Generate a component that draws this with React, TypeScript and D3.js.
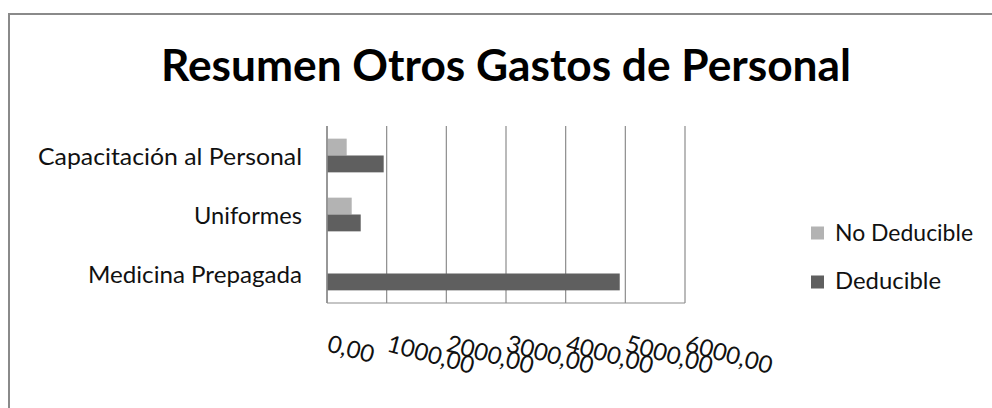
import React from "react";
import * as d3 from "d3";

const categories = ["Capacitación al Personal", "Uniformes", "Medicina Prepagada"];
const seriesNames = ["No Deducible", "Deducible"];
const noDeducible = [330, 414, 0];
const deducible = [950, 565, 4906];
const xTicks = [0, 1000, 2000, 3000, 4000, 5000, 6000];
const tickLabels = ["0,00", "1000,00", "2000,00", "3000,00", "4000,00", "5000,00", "6000,00"];
const title = "Resumen Otros Gastos de Personal";

const colors = ["#B3B3B3", "#5F5F5F"];
const FONT = "Lato, 'Open Sans', sans-serif";

export default function App() {
  const W = 992, H = 408;
  const left = 327, right = 685, top = 126, bottom = 303;
  const x = d3.scaleLinear().domain([0, 6000]).range([left, right]);
  const y = d3.scaleBand<string>().domain(categories).range([top, bottom]).paddingInner(1.5 / 3.5).paddingOuter(0.75 / 3.5);
  const inner = d3.scaleBand<string>().domain(seriesNames).range([0, y.bandwidth()]);
  const seriesValues = [noDeducible, deducible];
  const catLabelWidths = [264, 108, 214];

  return (
    <svg width={W} height={H} style={{ position: "absolute", left: 0, top: 0, display: "block", background: "#fff" }}>
      <rect x={9} y={14} width={1100} height={600} fill="#fff" stroke="#8A8A8A" strokeWidth={2} />
      <text x={506} y={80.5} textAnchor="middle" fontFamily={FONT} fontWeight="bold" fontSize={43} textLength={690} lengthAdjust="spacingAndGlyphs" fill="#000">
        {title}
      </text>
      {xTicks.map((t) => (
        <line key={"g" + t} x1={x(t)} x2={x(t)} y1={top} y2={bottom} stroke="#8C8C8C" strokeWidth={1.2} />
      ))}
      <line x1={left} x2={right} y1={bottom} y2={bottom} stroke="#8C8C8C" strokeWidth={1.2} />
      {seriesValues.map((vals, si) =>
        categories.map((c, ci) => (
          <rect
            key={si + "-" + ci}
            x={x(0)}
            y={(y(c) as number) + (inner(seriesNames[si]) as number)}
            width={x(vals[ci]) - x(0)}
            height={inner.bandwidth()}
            fill={colors[si]}
          />
        ))
      )}
      <line x1={left} x2={left} y1={top} y2={bottom} stroke="#8C8C8C" strokeWidth={1.5} />
      {categories.map((c, ci) => (
        <text key={c} x={302} y={(y(c) as number) + y.bandwidth() / 2 + 9} textAnchor="end" fontFamily={FONT} fontSize={24} textLength={catLabelWidths[ci]} lengthAdjust="spacingAndGlyphs" fill="#111">
          {c}
        </text>
      ))}
      {xTicks.map((t, i) => (
        <text key={"t" + t} x={x(t) - 1} y={351} transform={`rotate(15, ${x(t) - 1}, 351)`} fontFamily={FONT} fontSize={24} fill="#111">
          {tickLabels[i]}
        </text>
      ))}
      {seriesNames.map((s, i) => (
        <g key={s}>
          <rect x={811} y={[226.5, 275.5][i]} width={13} height={13} fill={colors[i]} />
          <text x={835} y={[240.5, 289][i]} fontFamily={FONT} fontSize={24} textLength={[138, 106][i]} lengthAdjust="spacingAndGlyphs" fill="#111">
            {s}
          </text>
        </g>
      ))}
    </svg>
  );
}
